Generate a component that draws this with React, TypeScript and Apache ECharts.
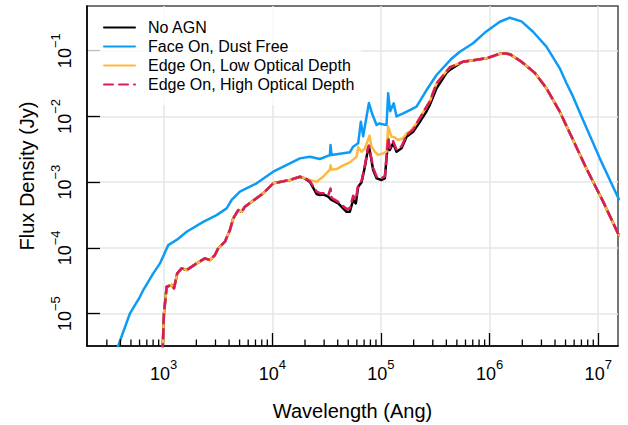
import React, { useEffect, useRef } from 'react';
import * as echarts from 'echarts';

const FONT = '"Liberation Sans", Arial, Helvetica, sans-serif';

const X_MIN = 197;
const X_MAX = 1.52e7;
const Y_MIN = 3.21e-6;
const Y_MAX = 0.479;

const seriesNames = [
  'No AGN',
  'Face On, Dust Free',
  'Edge On, Low Optical Depth',
  'Edge On, High Optical Depth',
];

// shared stellar UV/optical part (No AGN, Low & High optical depth)
const stellarUV: [number, number][] = [
  [975, 2.5e-6], [1007, 1.01e-5], [1066, 2.56e-5], [1185, 2.72e-5], [1245, 2.42e-5],
  [1334, 4.09e-5], [1465, 4.88e-5], [1630, 4.59e-5], [2013, 5.8e-5], [2399, 6.92e-5],
  [2667, 6.52e-5], [2965, 7.77e-5], [3177, 9.82e-5], [3664, 1.24e-4], [4074, 1.87e-4],
  [4369, 2.81e-4], [4855, 3.76e-4], [5221, 3.54e-4], [5598, 4.23e-4], [6452, 5.04e-4],
  [8248, 6.76e-4], [10190, 9.6e-4], [14530, 1.08e-3], [17950, 1.21e-3],
];

// shared far-infrared part
const farIR: [number, number][] = [
  [570300, 6.8e-2], [812800, 7.4e-2], [937600, 7.66e-2], [1242000, 0.09], [1400000, 0.0905],
  [1535000, 0.0886], [1965000, 0.068], [2606000, 0.046], [3336000, 0.0268], [4426000, 0.0118],
  [5866000, 4.38e-3], [7798000, 1.6e-3], [11070000, 5.1e-4], [15100000, 1.7e-4], [15500000, 1.55e-4],
];

const noAgnMid: [number, number][] = [
  [19950, 1.14e-3], [22180, 1.01e-3], [25570, 6.6e-4], [27420, 6.37e-4], [29380, 6.5e-4],
  [32660, 6.0e-4], [35130, 5.35e-4], [40390, 4.75e-4], [48290, 3.54e-4], [51760, 3.54e-4],
  [55470, 5.35e-4], [58700, 4.75e-4], [61710, 8.5e-4], [66340, 1.0e-3], [71110, 1.71e-3],
  [76250, 3.27e-3], [77500, 3.5e-3], [80180, 2.58e-3], [84770, 1.53e-3], [91170, 1.14e-3],
  [101400, 1.08e-3], [108600, 1.14e-3], [116500, 4.6e-3], [120700, 3.08e-3], [129500, 3.9e-3],
  [139200, 2.9e-3], [154700, 3.27e-3], [172000, 4.91e-3], [197800, 5.85e-3], [228100, 8.3e-3],
  [262800, 1.2e-2], [282000, 1.5e-2], [324900, 2.68e-2], [401800, 4.6e-2], [430500, 5.1e-2],
  [532400, 6.4e-2],
];

const lowDepthMid: [number, number][] = [
  [19950, 1.15e-3], [22180, 1.08e-3], [25570, 1.01e-3], [29380, 1.21e-3], [33870, 1.55e-3],
  [34360, 1.8e-3], [35130, 1.55e-3], [39050, 1.58e-3], [45000, 1.8e-3], [51760, 2.0e-3],
  [55470, 2.2e-3], [59660, 2.44e-3], [61710, 3.4e-3], [66340, 2.9e-3], [71110, 3.27e-3],
  [78500, 5.1e-3], [81960, 3.46e-3], [87850, 2.9e-3], [94250, 2.6e-3], [104800, 2.74e-3],
  [112600, 2.9e-3], [116500, 7.0e-3], [125200, 4.9e-3], [134300, 4.8e-3], [143900, 4.38e-3],
  [160100, 4.65e-3], [172000, 5.53e-3], [184400, 5.85e-3], [212600, 7.85e-3], [228100, 9.5e-3],
  [262800, 1.41e-2], [282000, 1.7e-2], [324900, 3.19e-2], [430500, 5.6e-2],
];

const highDepthMid: [number, number][] = [
  [19950, 1.15e-3], [22180, 1.03e-3], [25570, 7.2e-4], [27420, 6.8e-4], [29380, 6.8e-4],
  [32660, 6.2e-4], [34360, 8.0e-4], [35130, 5.8e-4], [40390, 5.0e-4], [48290, 3.9e-4],
  [51760, 4.0e-4], [55470, 6.2e-4], [58700, 5.4e-4], [61710, 9.0e-4], [66340, 1.05e-3],
  [71110, 1.8e-3], [76250, 3.4e-3], [77500, 3.6e-3], [80180, 2.7e-3], [84770, 1.65e-3],
  [91170, 1.22e-3], [101400, 1.16e-3], [108600, 1.22e-3], [116500, 4.8e-3], [120700, 3.3e-3],
  [129500, 4.2e-3], [139200, 3.1e-3], [154700, 3.5e-3], [172000, 5.2e-3], [197800, 6.3e-3],
  [228100, 9.5e-3], [262800, 1.41e-2], [282000, 1.7e-2], [324900, 3.19e-2], [430500, 5.6e-2],
];

const faceOn: [number, number][] = [
  [364, 2.6e-6], [490, 1.01e-5], [605, 1.8e-5], [649, 2.28e-5], [802, 4.09e-5],
  [925, 5.8e-5], [1102, 1.1e-4], [1318, 1.32e-4], [1630, 1.76e-4], [2313, 2.49e-4],
  [3073, 3.15e-4], [3799, 3.99e-4], [4225, 5.35e-4], [5033, 7.15e-4], [7178, 9.59e-4],
  [10190, 1.44e-3], [14530, 1.93e-3], [17950, 2.3e-3], [22180, 2.44e-3], [27420, 2.25e-3],
  [33870, 2.58e-3], [34360, 3.67e-3], [35130, 2.58e-3], [51760, 2.85e-3], [55470, 3.46e-3],
  [61710, 3.9e-3], [65330, 8.3e-3], [68590, 5.0e-3], [77500, 1.6e-2], [83000, 1.1e-2],
  [91170, 7.4e-3], [96000, 7.8e-3], [112600, 7.4e-3], [116500, 2.25e-2], [121500, 1.2e-2],
  [131000, 1.58e-2], [139200, 1.0e-2], [160100, 1.11e-2], [184400, 1.25e-2], [212600, 1.41e-2],
  [262800, 2.52e-2], [324900, 4.27e-2], [440000, 7.4e-2], [532400, 9.66e-2], [704700, 0.1297],
  [900000, 0.187], [1242000, 0.276], [1535000, 0.318], [1965000, 0.28], [2512000, 0.1945],
  [3336000, 0.1151], [4426000, 0.054], [5102000, 0.0319], [5866000, 0.02], [7244000, 8.8e-3],
  [10330000, 2.3e-3], [15100000, 6.0e-4], [15500000, 5.5e-4],
];

const minorTicks = [
  300, 400, 500, 600, 700, 800, 900,
  2000, 3000, 4000, 5000, 6000, 7000, 8000, 9000,
  2e4, 3e4, 4e4, 5e4, 6e4, 7e4, 8e4, 9e4,
  2e5, 3e5, 4e5, 5e5, 6e5, 7e5, 8e5, 9e5,
  2e6, 3e6, 4e6, 5e6, 6e6, 7e6, 8e6, 9e6,
];

const colors = ['#000000', '#0d9cf5', '#ffb93c', '#dc1a5a'];

const supLabel = (v: number) => {
  const e = Math.log10(v);
  const n = Math.round(e);
  if (Math.abs(e - n) > 0.02) return '';
  const s = n < 0 ? '\u2212' + Math.abs(n) : String(n);
  return `{b|10}{s|${s}}`;
};

const rich = {
  b: { fontSize: 18, lineHeight: 32, fontFamily: FONT, color: '#000' },
  s: { fontSize: 13, lineHeight: 13, verticalAlign: 'top', fontFamily: FONT, color: '#000' },
};

export default function App() {
  const ref = useRef<HTMLDivElement>(null);
  useEffect(() => {
    if (!ref.current) return;
    const chart = echarts.init(ref.current, null, { renderer: 'svg' });
    const lineBase = (name: string, data: [number, number][], i: number, dashed = false) => ({
      name,
      type: 'line',
      data,
      xAxisIndex: 1,
      yAxisIndex: 1,
      symbol: 'none',
      showSymbol: false,
      smooth: false,
      clip: true,
      lineStyle: { color: colors[i], width: 2.5, type: dashed ? [9, 6] : 'solid', cap: 'round', join: 'round' },
      itemStyle: { color: colors[i], opacity: 0 },
      z: 2 + i,
    });
    const option: any = {
      animation: false,
      backgroundColor: '#fff',
      textStyle: { fontFamily: FONT },
      grid: {
        left: 87, top: 6, right: 10, bottom: 79,
        show: true, borderColor: '#4a4a4a', borderWidth: 1.5, backgroundColor: 'transparent',
        containLabel: false, outerBoundsMode: 'none',
      },
      legend: {
        show: true,
        orient: 'vertical',
        left: 88,
        top: 7,
        data: seriesNames,
        itemWidth: 31,
        itemHeight: 19,
        itemGap: 0,
        padding: [11, 7, 11, 15],
        backgroundColor: 'rgba(255,255,255,0.75)',
        itemStyle: { opacity: 0 },
        textStyle: { fontSize: 16, lineHeight: 19, fontFamily: FONT, color: '#000', padding: [0, 0, 0, 8] },
        selectedMode: false,
        z: 10,
      },
      xAxis: [
        {
          type: 'log', logBase: 10, min: X_MIN, max: X_MAX, position: 'bottom',
          axisLine: { show: false }, axisTick: { show: false }, axisLabel: { show: false },
          splitLine: { show: true, showMinLine: false, showMaxLine: false, lineStyle: { color: '#e6e6e6', width: 1.5 } },
        },
        {
          type: 'log', logBase: 10, min: X_MIN, max: X_MAX, position: 'bottom',
          name: 'Wavelength (Ang)', nameLocation: 'middle', nameGap: 55,
          nameTextStyle: { fontSize: 20, lineHeight: 20, fontFamily: FONT, color: '#000' },
          axisLine: { show: true, onZero: false, lineStyle: { color: '#000', width: 1.6 } },
          axisTick: { show: true, inside: true, length: 13, lineStyle: { color: '#000', width: 1.3 } },
          axisLabel: { show: true, margin: 12, formatter: supLabel, rich, showMinLabel: false, showMaxLabel: false },
          splitLine: { show: false },
        },
      ],
      yAxis: [
        {
          type: 'log', logBase: 10, min: Y_MIN, max: Y_MAX, position: 'left',
          axisLine: { show: false }, axisTick: { show: false }, axisLabel: { show: false },
          splitLine: { show: true, showMinLine: false, showMaxLine: false, lineStyle: { color: '#e6e6e6', width: 1.5 } },
        },
        {
          type: 'log', logBase: 10, min: Y_MIN, max: Y_MAX, position: 'left',
          name: 'Flux Density (Jy)', nameLocation: 'middle', nameGap: 50, nameRotate: 90,
          nameTextStyle: { fontSize: 20, lineHeight: 20, fontFamily: FONT, color: '#000' },
          axisLine: { show: true, onZero: false, lineStyle: { color: '#000', width: 1.6 } },
          axisTick: { show: true, inside: true, length: 13, lineStyle: { color: '#000', width: 1.3 } },
          axisLabel: { show: true, margin: 6, rotate: 90, formatter: supLabel, rich, showMinLabel: false, showMaxLabel: false },
          splitLine: { show: false },
        },
      ],
      series: [
        lineBase(seriesNames[0], [...stellarUV, ...noAgnMid, ...farIR], 0),
        lineBase(seriesNames[1], faceOn, 1),
        lineBase(seriesNames[2], [...stellarUV, ...lowDepthMid, ...farIR], 2),
        lineBase(seriesNames[3], [...stellarUV, ...highDepthMid, ...farIR], 3, true),
        {
          type: 'custom',
          name: 'minor ticks',
          xAxisIndex: 1,
          yAxisIndex: 1,
          silent: true,
          z: 8,
          data: minorTicks.map((v) => [v, Y_MIN]),
          renderItem: (_params: any, api: any) => {
            const p = api.coord([api.value(0), Y_MIN]);
            return {
              type: 'line',
              shape: { x1: p[0], y1: p[1], x2: p[0], y2: p[1] - 6.5 },
              style: { stroke: '#000', lineWidth: 1.3 },
            };
          },
        },
      ],
    };
    chart.setOption(option);
    return () => chart.dispose();
  }, []);
  return <div ref={ref} style={{ position: 'absolute', left: 0, top: 0, width: 628, height: 425 }} />;
}
